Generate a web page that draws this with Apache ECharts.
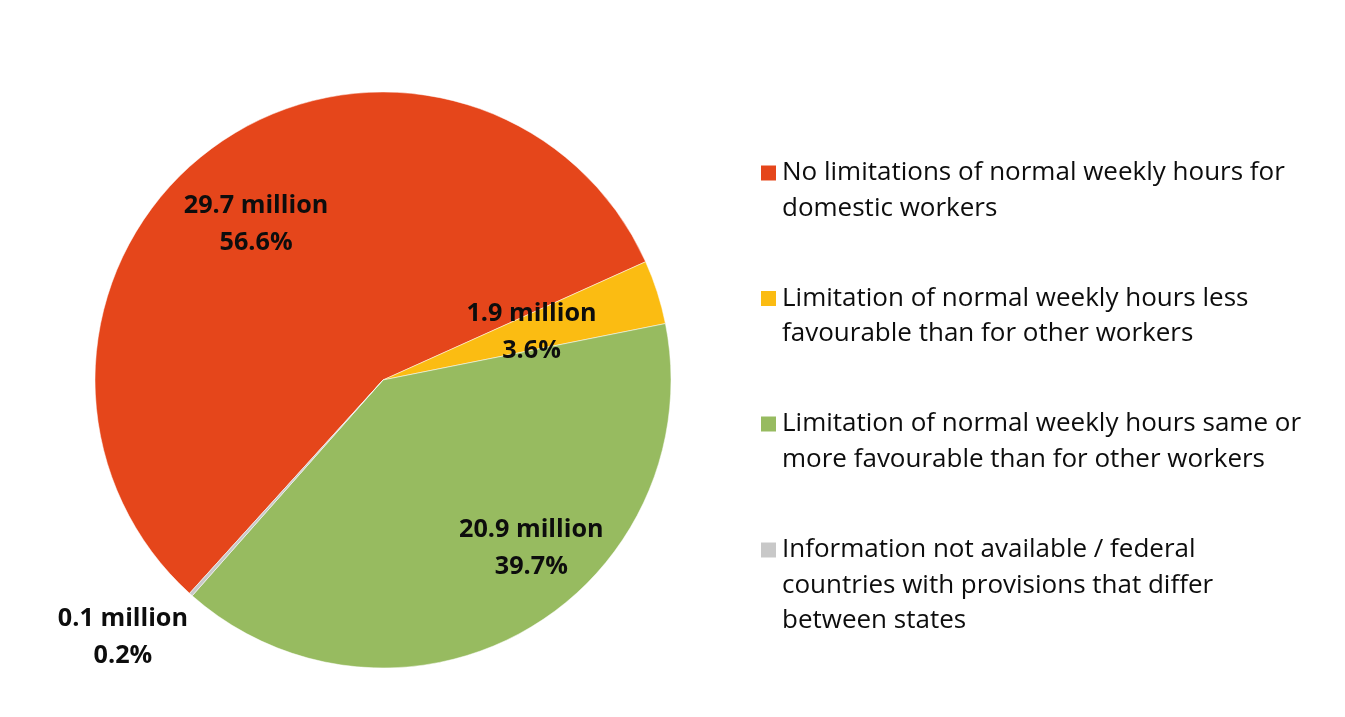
<!DOCTYPE html>
<html>
<head>
<meta charset="utf-8">
<script src="https://cdn.jsdelivr.net/npm/echarts@6/dist/echarts.min.js"></script>
<style>
html,body{margin:0;padding:0;background:#fff;}
#chart{width:1345px;height:717px;}
</style>
</head>
<body>
<div id="chart"></div>
<script>
// ---- data ----
const categories = [
  "No limitations of normal weekly hours for\ndomestic workers",
  "Limitation of normal weekly hours less\nfavourable than for other workers",
  "Limitation of normal weekly hours same or\nmore favourable than for other workers",
  "Information not available / federal\ncountries with provisions that differ\nbetween states"
];
const percentValues = [56.6, 3.6, 39.7, 0.2];
const millionValues = [29.7, 1.9, 20.9, 0.1];
const colors = ["#E5461B", "#FBBC12", "#97BB60", "#C8C8C8"];

const FONT = "'Open Sans', Lato, sans-serif";
const LH = 35.5;
const labelShift = [[-40.5, -36.5], [8.5, -2.5], [75, 40.5], [-162, 147.5]];
const legendIconY = [173, 298.5, 424, 550];

const chart = echarts.init(document.getElementById('chart'), null, {renderer: 'canvas'});

const legends = categories.map((name, i) => {
  const n = name.split('\n').length;
  return {
    orient: 'vertical',
    left: 759,
    top: legendIconY[i] - (2 * n - 1) * LH / 2,
    padding: 0,
    itemWidth: 17,
    itemHeight: 17,
    icon: 'rect',
    selectedMode: false,
    data: [name],
    formatter: nm => '\n'.repeat(n - 1) + nm,
    textStyle: {
      fontFamily: FONT,
      fontSize: 26,
      color: '#0d0d0d',
      lineHeight: LH
    }
  };
});

chart.setOption({
  animation: false,
  color: colors,
  legend: legends,
  series: [{
    type: 'pie',
    center: [383, 380],
    radius: 288,
    startAngle: 227.8,
    clockwise: true,
    avoidLabelOverlap: false,
    itemStyle: {borderColor: '#fff', borderWidth: 0.5},
    label: {
      show: true,
      position: 'inside',
      fontFamily: FONT,
      fontSize: 25.2,
      fontWeight: 'bold',
      color: '#0d0d0d',
      lineHeight: 37,
      align: 'center',
      formatter: p => millionValues[p.dataIndex].toFixed(1) + ' million\n' + p.value.toFixed(1) + '%'
    },
    labelLine: {show: false},
    labelLayout: p => ({dx: labelShift[p.dataIndex][0], dy: labelShift[p.dataIndex][1]}),
    emphasis: {disabled: true},
    data: categories.map((c, i) => ({name: c, value: percentValues[i]}))
  }]
});
</script>
</body>
</html>
